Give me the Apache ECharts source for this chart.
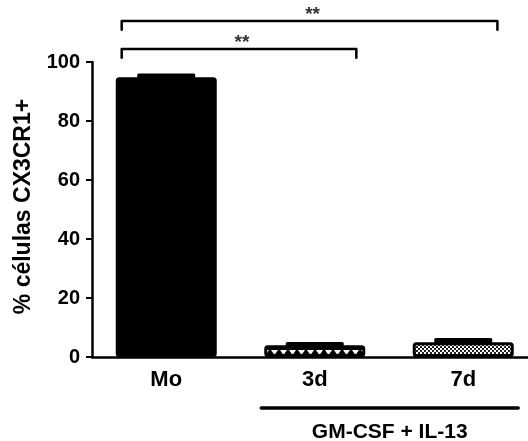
<!DOCTYPE html>
<html><head><meta charset="utf-8">
<script src="https://cdn.jsdelivr.net/npm/echarts@6/dist/echarts.min.js"></script>
<style>html,body{margin:0;padding:0;background:#fff}#c{width:528px;height:441px}</style>
</head><body><div id="c"></div>
<script>
// ---- data ----
const categories = ['Mo', '3d', '7d'];
const means = [94.8, 4.0, 5.0];
const sems = [1.3, 1.1, 1.4];
const yTickValues = [0, 20, 40, 60, 80, 100];
const yTitle = '% células CX3CR1+';
const sigLabels = ['**', '**'];
const sigFrom = [0, 0];
const sigTo = [1, 2];
const groupLabel = 'GM-CSF + IL-13';
const groupMembers = [1, 2];

// ---- fills ----
function patternTriangles() {
  const c = document.createElement('canvas'); c.width = 9; c.height = 15;
  const g = c.getContext('2d');
  g.fillStyle = '#000'; g.fillRect(0, 0, 9, 15);
  g.fillStyle = '#fff'; g.beginPath(); g.moveTo(1, 5); g.lineTo(8, 5); g.lineTo(4.5, 10); g.closePath(); g.fill();
  return c;
}
function patternChecker() {
  const c = document.createElement('canvas'); c.width = 4; c.height = 4;
  const g = c.getContext('2d');
  g.fillStyle = '#222'; g.fillRect(0, 0, 4, 4);
  g.fillStyle = '#fff'; g.fillRect(0, 0, 2, 2); g.fillRect(2, 2, 2, 2);
  return c;
}
const fills = ['#000', { image: patternTriangles(), repeat: 'repeat' }, { image: patternChecker(), repeat: 'repeat' }];

const chart = echarts.init(document.getElementById('c'), null, { renderer: 'canvas' });
const FONT = 'Liberation Sans, Arial, sans-serif';

const option = {
  animation: false,
  backgroundColor: '#fff',
  grid: { left: 92, top: 62, width: 445.5, height: 295, containLabel: false, outerBoundsMode: 'none' },
  xAxis: {
    type: 'category', data: categories,
    axisLine: { lineStyle: { color: '#000', width: 2.5 } },
    axisTick: { alignWithLabel: true, length: 6, lineStyle: { color: '#000', width: 2 } },
    axisLabel: { color: '#000', fontWeight: 'bold', fontSize: 22, fontFamily: FONT, margin: 12 },
    splitLine: { show: false }
  },
  yAxis: {
    type: 'value', min: 0, max: 100, interval: 20,
    name: yTitle, nameLocation: 'middle', nameGap: 57, nameRotate: 90,
    nameTextStyle: { color: '#000', fontWeight: 'bold', fontSize: 23, fontFamily: FONT, padding: [0, 0, 0, 6] },
    axisLine: { show: true, lineStyle: { color: '#000', width: 2.5 } },
    axisTick: { show: true, length: 6, lineStyle: { color: '#000', width: 2 } },
    axisLabel: { color: '#000', fontWeight: 'bold', fontSize: 20, fontFamily: FONT, margin: 12,
      formatter: v => yTickValues.includes(v) ? String(v) : '' },
    splitLine: { show: false }
  },
  series: [
    {
      type: 'bar', barWidth: 101,
      data: means.map((v, i) => ({ value: v, itemStyle: { color: fills[i] } })),
      itemStyle: { borderColor: '#000', borderWidth: 3, borderRadius: 2 },
      z: 2
    },
    {
      type: 'custom', clip: false, z: 3,
      data: means.map((v, i) => [i, v, v + sems[i]]),
      encode: { x: 0, y: [1, 2] },
      renderItem: (params, api) => {
        const b = api.coord([api.value(0), api.value(1)]);
        const t = api.coord([api.value(0), api.value(2)]);
        const w = 58;
        return { type: 'rect', shape: { x: b[0] - w / 2, y: t[1], width: w, height: b[1] - t[1] + 1, r: 1.5 }, style: { fill: '#000' } };
      }
    },
    {
      type: 'custom', clip: false, z: 4, silent: true,
      data: [[0, 0]],
      encode: { x: 0, y: 1 },
      renderItem: (params, api) => {
        const band = api.size([1, 0])[0];
        const children = [];
        const levels = [104.4, 113.9];
        const drop = 3.0;
        const ends = [[-0.3, 0.28], [-0.3, 0.23]];
        for (let k = 0; k < sigLabels.length; k++) {
          const a = api.coord([sigFrom[k], levels[k]]);
          const b = api.coord([sigTo[k], levels[k]]);
          const lo = api.coord([sigFrom[k], levels[k] - drop]);
          const x1 = a[0] + ends[k][0] * band, x2 = b[0] + ends[k][1] * band;
          children.push({ type: 'polyline', shape: { points: [[x1, lo[1]], [x1, a[1]], [x2, a[1]], [x2, lo[1]]] },
            style: { stroke: '#000', lineWidth: 2.5, fill: null, lineJoin: 'round', lineCap: 'round' } });
          const s = api.coord([sigFrom[k], levels[k] + 2.2]);
          children.push({ type: 'text', style: { text: sigLabels[k], x: (x1 + x2) / 2 + 3, y: s[1], align: 'center', verticalAlign: 'middle',
            font: 'bold 19px ' + FONT, fill: '#333' } });
        }
        const g1 = api.coord([groupMembers[0], -17.3]);
        const g2 = api.coord([groupMembers[1], -17.3]);
        const gx1 = g1[0] - 0.36 * band, gx2 = g2[0] + 0.37 * band;
        children.push({ type: 'line', shape: { x1: gx1, y1: g1[1], x2: gx2, y2: g1[1] }, style: { stroke: '#000', lineWidth: 3.5, lineCap: 'round' } });
        const gt = api.coord([groupMembers[0], -25.6]);
        children.push({ type: 'text', style: { text: groupLabel, x: (gx1 + gx2) / 2, y: gt[1], align: 'center', verticalAlign: 'middle',
          font: 'bold 21px ' + FONT, fill: '#000' } });
        return { type: 'group', children };
      }
    }
  ]
};
chart.setOption(option);
</script>
</body></html>
